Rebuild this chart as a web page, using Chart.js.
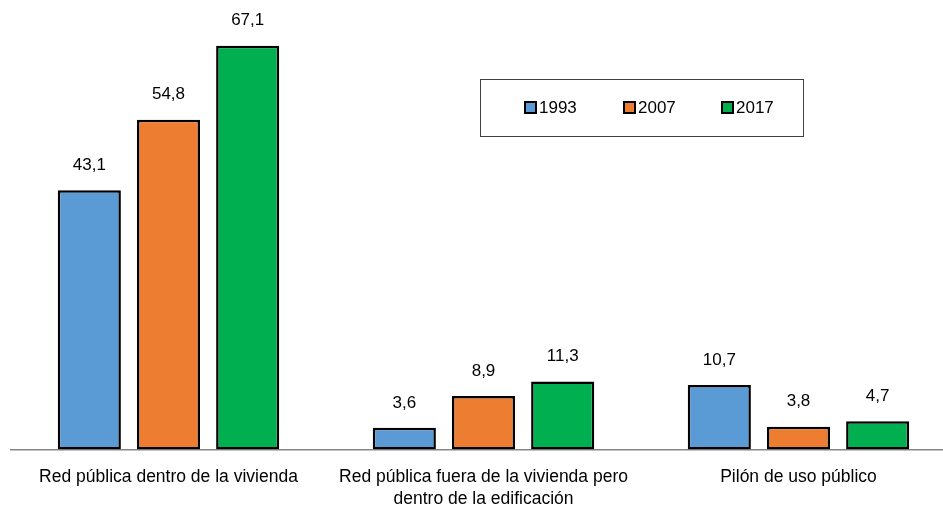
<!DOCTYPE html>
<html>
<head>
<meta charset="utf-8">
<script src="https://cdn.jsdelivr.net/npm/chart.js@4"></script>
<style>
  html, body { margin: 0; padding: 0; background: #fff; overflow: hidden; }
  #wrap { width: 956px; height: 527px; }
</style>
</head>
<body>
<div id="wrap"><canvas id="grafico"></canvas></div>
<script>
// Datos
const categorias = [
  "Red pública dentro de la vivienda",
  ["Red pública fuera de la vivienda pero", "dentro de la edificación"],
  "Pilón de uso público",
];
const anios = ["1993", "2007", "2017"];
const valores1993 = [43.1, 3.6, 10.7];
const valores2007 = [54.8, 8.9, 3.8];
const valores2017 = [67.1, 11.3, 4.7];
const colores = ["#5B9BD5", "#ED7D31", "#00B050"];

const fuente = "'Liberation Sans', Arial, sans-serif";

// etiquetas sobre las barras
const etiquetas = {
  id: "etiquetas",
  afterDatasetsDraw(chart) {
    const ctx = chart.ctx;
    ctx.save();
    ctx.font = "17px " + fuente;
    ctx.fillStyle = "#000";
    ctx.textAlign = "center";
    ctx.textBaseline = "middle";
    chart.data.datasets.forEach((ds, i) => {
      chart.getDatasetMeta(i).data.forEach((bar, j) => {
        ctx.fillText(ds.data[j].toFixed(1).replace(".", ","), bar.x, bar.y - 25);
      });
    });
    ctx.restore();
  },
};

// leyenda con recuadro
const leyenda = {
  id: "leyenda",
  afterDraw(chart) {
    const ctx = chart.ctx;
    ctx.save();
    ctx.strokeStyle = "#404040";
    ctx.lineWidth = 1;
    ctx.strokeRect(480.5, 79.5, 323, 57);
    ctx.font = "17px " + fuente;
    ctx.textBaseline = "middle";
    const xs = [525, 624, 722];
    chart.data.datasets.forEach((ds, i) => {
      ctx.fillStyle = ds.backgroundColor;
      ctx.fillRect(xs[i], 102, 11, 11);
      ctx.strokeStyle = "#000";
      ctx.lineWidth = 2;
      ctx.strokeRect(xs[i], 102, 11, 11);
      ctx.fillStyle = "#000";
      ctx.fillText(ds.label, xs[i] + 14, 108);
    });
    ctx.restore();
  },
};

new Chart(document.getElementById("grafico"), {
  type: "bar",
  data: {
    labels: categorias,
    datasets: [
      { label: anios[0], data: valores1993, backgroundColor: colores[0] },
      { label: anios[1], data: valores2007, backgroundColor: colores[1] },
      { label: anios[2], data: valores2017, backgroundColor: colores[2] },
    ].map((d) => ({ ...d, borderColor: "#000", borderWidth: 2.5, borderSkipped: false })),
  },
  options: {
    responsive: true,
    maintainAspectRatio: false,
    animation: false,
    devicePixelRatio: 1,
    layout: { padding: { left: 11, top: 0, right: 0, bottom: 0 } },
    datasets: {
      bar: { categoryPercentage: 0.754, barPercentage: 0.797 },
    },
    plugins: {
      legend: { display: false },
      tooltip: { enabled: false },
    },
    scales: {
      x: {
        grid: { display: false, drawTicks: false },
        border: { display: true, color: "#868686", width: 1.5 },
        ticks: { color: "#000", font: { family: fuente, size: 17.5, lineHeight: 1.3 }, padding: 16, maxRotation: 0, autoSkip: false },
      },
      y: {
        display: false,
        min: 0,
        max: 74.7,
      },
    },
  },
  plugins: [etiquetas, leyenda],
});
</script>
</body>
</html>
